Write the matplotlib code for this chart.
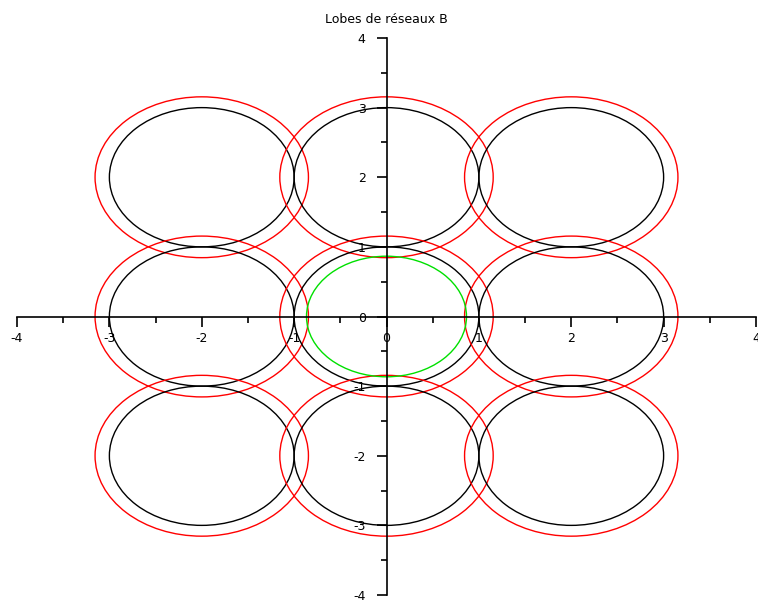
import matplotlib
matplotlib.use("Agg")
import matplotlib.pyplot as plt
from matplotlib.patches import Circle
from matplotlib.ticker import MultipleLocator

plt.rcParams["axes.unicode_minus"] = False

# lattice centres of the lobes
centers_x = [-2, 0, 2, -2, 0, 2, -2, 0, 2]
centers_y = [2, 2, 2, 0, 0, 0, -2, -2, -2]

# radii of each ring family
r_black = 1.0
r_red = 1.155
r_green = 0.866

fig = plt.figure(figsize=(7.58, 6.03), dpi=100)
ax = fig.add_axes([17 / 758, 8 / 603, 739 / 758, 557 / 603])

for cx, cy in zip(centers_x, centers_y):
    ax.add_patch(Circle((cx, cy), r_red, fill=False, color="red", lw=1.0))
    ax.add_patch(Circle((cx, cy), r_black, fill=False, color="black", lw=1.0))
ax.add_patch(Circle((0, 0), r_green, fill=False, color="#00e000", lw=1.0))

ax.set_xlim(-4, 4)
ax.set_ylim(-4, 4)

# axes through the origin, scilab style
for side in ["top", "right"]:
    ax.spines[side].set_visible(False)
ax.spines["left"].set_position("zero")
ax.spines["bottom"].set_position("zero")
ax.spines["left"].set_linewidth(1.2)
ax.spines["bottom"].set_linewidth(1.2)

ax.xaxis.set_major_locator(MultipleLocator(1))
ax.yaxis.set_major_locator(MultipleLocator(1))
ax.xaxis.set_minor_locator(MultipleLocator(0.5))
ax.yaxis.set_minor_locator(MultipleLocator(0.5))
ax.tick_params(which="major", direction="out", length=7, width=1.2, labelsize=9, pad=4)
ax.tick_params(which="minor", direction="out", length=4, width=1.2)
ax.tick_params(axis="y", which="major", pad=8)

ax.set_title("Lobes de réseaux B", fontsize=9, y=1.0, pad=11)

fig.savefig("out.png", dpi=100)
